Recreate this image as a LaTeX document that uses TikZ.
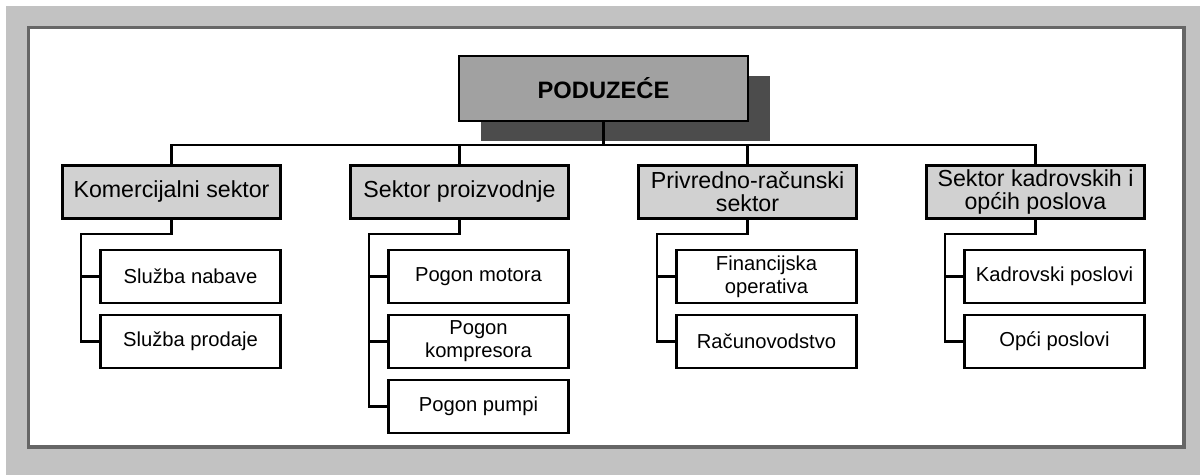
\documentclass[tikz,border=0pt]{standalone}
\usepackage{fontspec}
\setmainfont{Liberation Sans}
\usetikzlibrary{shadows,positioning}
\definecolor{framegrey}{gray}{0.76}
\definecolor{sectorgrey}{gray}{0.82}
\definecolor{firmgrey}{gray}{0.63}
\definecolor{shadowgrey}{gray}{0.3}
\tikzstyle{firmbox} = [draw, rectangle, fill=firmgrey, line width=1.5pt, minimum width=5.78cm, minimum height=1.3cm, font=\fontsize{13.5}{15}\selectfont\bfseries, drop shadow={shadow xshift=0.44cm, shadow yshift=-0.4cm, fill=shadowgrey, opacity=1}]
\tikzstyle{sector} = [draw, rectangle, fill=sectorgrey, line width=1.5pt, minimum width=4.36cm, minimum height=1.06cm, align=center, inner sep=0pt, font=\fontsize{13.2}{13}\selectfont]
\tikzstyle{unit} = [draw, rectangle, fill=white, line width=1.5pt, minimum width=3.6cm, minimum height=1.06cm, align=center, inner sep=0pt, font=\fontsize{11.5}{13}\selectfont]

\begin{document}
\begin{tikzpicture}[node distance=5.76cm, line width=1.2pt]
\useasboundingbox (0,0) rectangle (24,-9.5);

% frame
\fill [framegrey] (0.12,-0.12) rectangle (24,-9.5);
\draw [fill=white, draw=black!60, line width=1.8pt] (0.57,-0.55) rectangle (23.68,-8.94);

\node [sector] (kom) at (3.43,-3.84) {Komercijalni sektor};
\node [sector, right of=kom] (pro) {Sektor proizvodnje};
\node [sector, right of=pro] (pri) {Privredno-računski\\sektor};
\node [sector, right of=pri] (kad) {Sektor kadrovskih i\\općih poslova};

\node [firmbox, above of=pro, node distance=2.07cm, xshift=2.88cm] (firm) {PODUZEĆE};
\node [coordinate, below of=firm, node distance=1.13cm] (bus) {};

\node [unit, below of=kom, node distance=1.69cm, xshift=0.38cm] (kom1) {Služba nabave};
\node [unit, below of=kom1, node distance=1.3cm] (kom2) {Služba prodaje};

\node [unit, below of=pro, node distance=1.69cm, xshift=0.38cm] (pro1) {Pogon motora};
\node [unit, below of=pro1, node distance=1.3cm] (pro2) {Pogon\\kompresora};
\node [unit, below of=pro2, node distance=1.3cm] (pro3) {Pogon pumpi};

\node [unit, below of=pri, node distance=1.69cm, xshift=0.38cm] (pri1) {Financijska\\operativa};
\node [unit, below of=pri1, node distance=1.3cm] (pri2) {Računovodstvo};

\node [unit, below of=kad, node distance=1.69cm, xshift=0.38cm] (kad1) {Kadrovski poslovi};
\node [unit, below of=kad1, node distance=1.3cm] (kad2) {Opći poslovi};

\draw (firm.south) -- (bus);
\draw (kom.north) |- (bus) -| (kad.north);
\draw (pro.north) -- (pro.north |- bus);
\draw (pri.north) -- (pri.north |- bus);

\draw (kom.south) -- ++(0,-0.28) -| ([xshift=-0.36cm]kom2.west) -- (kom2.west);
\draw ([xshift=-0.36cm]kom1.west) -- (kom1.west);

\draw (pro.south) -- ++(0,-0.28) -| ([xshift=-0.36cm]pro3.west) -- (pro3.west);
\draw ([xshift=-0.36cm]pro1.west) -- (pro1.west);
\draw ([xshift=-0.36cm]pro2.west) -- (pro2.west);

\draw (pri.south) -- ++(0,-0.28) -| ([xshift=-0.36cm]pri2.west) -- (pri2.west);
\draw ([xshift=-0.36cm]pri1.west) -- (pri1.west);

\draw (kad.south) -- ++(0,-0.28) -| ([xshift=-0.36cm]kad2.west) -- (kad2.west);
\draw ([xshift=-0.36cm]kad1.west) -- (kad1.west);
\end{tikzpicture}
\end{document}
